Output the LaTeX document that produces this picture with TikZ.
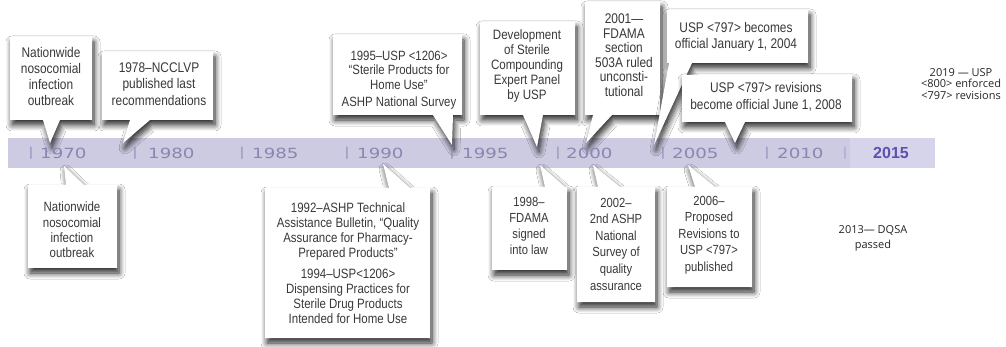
\documentclass[tikz,border=0pt]{standalone}
\usepackage{fontspec}
\usetikzlibrary{calc,backgrounds,shadows.blur}
\newfontfamily\callfont{Liberation Sans}[FakeStretch=0.85]
\newfontfamily\yearfont{DejaVu Sans}[FakeStretch=1.3]
\newfontfamily\barfont{Liberation Sans}
\newfontfamily\notefont{Open Sans}
\definecolor{bandfill}{HTML}{CDCBE2}
\definecolor{bandend}{HTML}{D6D4EA}
\definecolor{yeargray}{HTML}{8A86B0}
\definecolor{barpurple}{HTML}{A39DD6}
\definecolor{yearpurple}{HTML}{5E50B0}
\definecolor{textgray}{HTML}{3A3838}

% callout bubble pointing up to the band (box below the band)
\newcommand{\lowerbubble}[4]{%
  \path[bubble] (#1.south west) -- (#1.south east) -- (#1.north east)
    -- ($(#1.north west)+(#3,0)$) -- (#4) -- ($(#1.north west)+(#2,0)$)
    -- (#1.north west) -- cycle;}
% callout bubble pointing down to the band (box above the band)
\newcommand{\upperbubble}[4]{%
  \path[bubble] (#1.north west) -- (#1.north east) -- (#1.south east)
    -- ($(#1.south west)+(#3,0)$) -- (#4) -- ($(#1.south west)+(#2,0)$)
    -- (#1.south west) -- cycle;}

\begin{document}
\begin{tikzpicture}[x=1pt,y=-1pt,
  box/.style={anchor=north west,inner sep=0pt,outer sep=0pt},
  txt/.style={inner sep=0pt,align=center,text=textgray},
  fs/.style n args={2}{font=\callfont\fontsize{#1}{#2}\selectfont},
  bubble/.style={fill=white,blur shadow={shadow xshift=2pt,shadow yshift=-5pt,
      shadow blur radius=6pt,shadow blur steps=8,shadow opacity=85}},
  yearbar/.style={inner sep=0pt,text=yeargray,font=\barfont\fontsize{13}{13}\selectfont},
  yearlbl/.style={inner sep=0pt,anchor=west,text=yeargray,font=\yearfont\fontsize{14}{14}\selectfont},
  note/.style={inner sep=0pt,align=center,text=black!85,font=\notefont\fontsize{11}{11.7}\selectfont}]
\useasboundingbox (0,0) rectangle (1006,347);

% time band
\begin{scope}[on background layer]
  \fill[white] (0,0) rectangle (1006,347);
  \fill[bandfill] (8,138) rectangle (850,168);
  \fill[bandend] (850,138) rectangle (935,168);
\end{scope}

% year marks
\foreach \b/\d/\yr in {31/40/1970,135/148/1980,242/252/1985,347/357/1990,
    452/462/1995,558/566/2000,663/672/2005,767/777/2010}{
  \node[yearbar] (bar\yr) at (\b,153) {|};
  \node[yearlbl] (y\yr) at (\d,153) {\yr};
}
\node[yearbar,text=barpurple] (bar2015) at (845,153) {|};
\node[inner sep=0pt,text=yearpurple,font=\barfont\bfseries\fontsize{16}{16}\selectfont]
  (y2015) at (891,153) {2015};

% pointer tips on the band
\coordinate (tipA) at (50,143);
\coordinate (tipB) at (123,143);
\coordinate (tipC) at (452,145);
\coordinate (tipD) at (537,147);
\coordinate (tipE) at (586,143);
\coordinate (tipF) at (654,145);
\coordinate (tipG) at (735,143);
\coordinate (tipH) at (64,166);
\coordinate (tipI) at (383,164);
\coordinate (tipJ) at (540,165);
\coordinate (tipK) at (593,165);
\coordinate (tipL) at (688,165);

% boxes above the band
\node[box,minimum width=82pt,minimum height=83pt] (t1) at (10,37) {};
\node[box,minimum width=111pt,minimum height=68pt] (t2) at (102,52) {};
\node[box,minimum width=129pt,minimum height=80pt] (t3) at (333,35) {};
\node[box,minimum width=95pt,minimum height=93pt] (t4) at (480,22) {};
\node[box,minimum width=75pt,minimum height=113pt] (t5) at (585,2) {};
\node[box,minimum width=141pt,minimum height=53pt] (t6) at (667,10) {};
\node[box,minimum width=170pt,minimum height=47pt] (t7) at (682,75) {};

% boxes below the band
\node[box,minimum width=89pt,minimum height=83pt] (b1) at (28,185) {};
\node[box,minimum width=165pt,minimum height=150pt] (b2) at (265,188) {};
\node[box,minimum width=75pt,minimum height=83pt] (b3) at (492,187) {};
\node[box,minimum width=78pt,minimum height=115pt] (b4) at (577,187) {};
\node[box,minimum width=85pt,minimum height=100pt] (b5) at (667,187) {};

% callout shapes with their pointers
\begin{scope}[on background layer]
  \upperbubble{t1}{33}{50}{tipA}
  \upperbubble{t2}{28}{48}{tipB}
  \upperbubble{t3}{100}{120}{tipC}
  \upperbubble{t4}{43}{63}{tipD}
  \upperbubble{t5}{8}{27}{tipE}
  \upperbubble{t6}{2}{25}{tipF}
  \upperbubble{t7}{43}{63}{tipG}
  \lowerbubble{b1}{38}{56}{tipH}
  \lowerbubble{b2}{124}{145}{tipI}
  \lowerbubble{b3}{53}{73}{tipJ}
  \lowerbubble{b4}{21}{43}{tipK}
  \lowerbubble{b5}{28}{48}{tipL}
\end{scope}

% callout texts
\node[txt,fs={14}{16}] (t1text) at (51,76) {Nationwide\\nosocomial\\infection\\outbreak};
\node[txt,fs={14}{16.5}] (t2text) at (159,84) {1978–NCCLVP\\published last\\recommendations};
\node[txt,fs={13.4}{14.5}] (t3text) at (399,80) {1995–USP <1206>\\“Sterile Products for\\Home Use”\\[3pt]ASHP National Survey};
\node[txt,fs={13.6}{15}] (t4text) at (527,66) {Development\\of Sterile\\Compounding\\Expert Panel\\by USP};
\node[txt,fs={14}{14.5}] (t5text) at (624,55) {2001—\\FDAMA\\section\\503A ruled\\unconsti-\\tutional};
\node[txt,fs={14}{16.5}] (t6text) at (736,37) {USP <797> becomes\\official January 1, 2004};
\node[txt,fs={14}{16.5}] (t7text) at (766,97) {USP <797> revisions\\become official June 1, 2008};

\node[txt,fs={13.5}{15.3}] (b1text) at (72,230) {Nationwide\\nosocomial\\infection\\outbreak};
\node[txt,fs={13.5}{15}] (b2text) at (348,263) {1992–ASHP Technical\\Assistance Bulletin, “Quality\\Assurance for Pharmacy-\\Prepared Products”\\[6pt]1994–USP<1206>\\Dispensing Practices for\\Sterile Drug Products\\Intended for Home Use};
\node[txt,fs={13.2}{16}] (b3text) at (529,226) {1998–\\FDAMA\\signed\\into law};
\node[txt,fs={13.2}{16.6}] (b4text) at (616,244) {2002–\\2nd ASHP\\National\\Survey of\\quality\\assurance};
\node[txt,fs={13.2}{16.6}] (b5text) at (709,235) {2006–\\Proposed\\Revisions to\\USP <797>\\published};

% plain notes
\node[note] (n2019) at (961,84) {2019 — USP\\<800> enforced\\<797> revisions};
\node[note,font=\notefont\fontsize{11}{15}\selectfont] (n2013) at (873,238) {2013— DQSA\\passed};
\end{tikzpicture}
\end{document}
